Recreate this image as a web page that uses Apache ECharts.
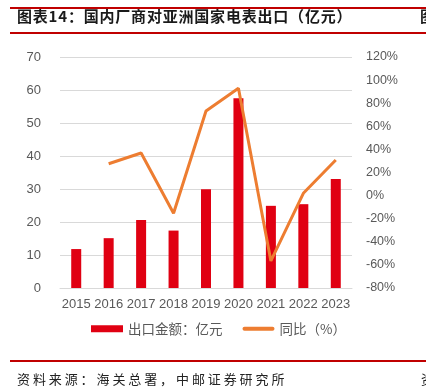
<!DOCTYPE html>
<html>
<head>
<meta charset="utf-8">
<script src="https://cdn.jsdelivr.net/npm/echarts@6/dist/echarts.min.js"></script>
<style>
  html, body { margin: 0; padding: 0; background: #fff; }
  #wrap { position: relative; width: 426px; height: 392px; overflow: hidden; }
  #chart { position: absolute; left: 0; top: 0; width: 426px; height: 392px; }
  .txt { position: absolute; white-space: nowrap; font-family: "Noto Sans CJK SC", sans-serif; }
  #title { left: 17px; top: 5px; font-size: 15px; font-weight: bold; color: #1a1a1a; letter-spacing: 0.8px; }
  #source { left: 17px; top: 369px; font-size: 13px; color: #222; letter-spacing: 2.9px; }
  .line { position: absolute; left: 10px; width: 420px; background: #C00000; }
</style>
</head>
<body>
<div id="wrap">
  <div id="chart"></div>
  <div class="line" style="top:7px;height:2px;"></div>
  <div class="line" style="top:32px;height:1.5px;"></div>
  <div class="line" style="top:360px;height:1.5px;"></div>
  <div class="txt" id="title">图表14：国内厂商对亚洲国家电表出口（亿元）</div>
  <div class="txt" style="left:420px;top:5px;font-size:15px;font-weight:bold;color:#1a1a1a;">图</div>
  <div class="txt" id="source">资料来源：海关总署，中邮证券研究所</div>
  <div class="txt" style="left:421px;top:369px;font-size:13px;color:#222;">资</div>
</div>
<script>
const years = ['2015', '2016', '2017', '2018', '2019', '2020', '2021', '2022', '2023']
const exportValue = [11.8, 15.1, 20.6, 17.4, 29.9, 57.5, 24.9, 25.4, 33.0]
const yoyPercent = [null, 27.6, 36.9, -15.3, 73.2, 92.9, -56.6, 2.0, 30.8]
const seriesNames = ['出口金额：亿元', '同比（%）']

const labelColor = '#595959'
const gridColor = '#D9D9D9'

let myChart = echarts.init(document.getElementById('chart'))
let option = {
  animation: false,
  grid: {
    left: 60,
    right: 74,
    top: 57,
    bottom: 104,
  },
  legend: {
    top: 317,
    left: 86,
    itemGap: 20,
    itemWidth: 32,
    itemHeight: 7,
    textStyle: {
      color: labelColor,
      fontSize: 13.5,
      fontFamily: 'Noto Sans CJK SC',
    },
    data: [
      { name: seriesNames[0], icon: 'rect' },
      { name: seriesNames[1], icon: 'path://M2,0 L30,0 A2,2 0 0 1 30,4 L2,4 A2,2 0 0 1 2,0 Z' },
    ],
  },
  xAxis: {
    type: 'category',
    data: years,
    axisLine: { show: true, lineStyle: { color: gridColor } },
    axisTick: { show: false },
    axisLabel: {
      interval: 0,
      color: labelColor,
      fontSize: 13,
      fontFamily: 'Liberation Sans',
      margin: 10,
    },
  },
  yAxis: [
    {
      type: 'value',
      min: 0,
      max: 70,
      interval: 10,
      axisLine: { show: false },
      axisTick: { show: false },
      splitLine: { lineStyle: { color: gridColor, width: 1 } },
      axisLabel: {
        color: labelColor,
        fontSize: 13,
        fontFamily: 'Liberation Sans',
        margin: 19,
      },
    },
    {
      type: 'value',
      min: -80,
      max: 120,
      interval: 20,
      axisLine: { show: false },
      axisTick: { show: false },
      splitLine: { show: false },
      axisLabel: {
        formatter: '{value}%',
        color: labelColor,
        fontSize: 12.5,
        fontFamily: 'Liberation Sans',
        margin: 14,
      },
    },
  ],
  series: [
    {
      name: seriesNames[0],
      type: 'bar',
      data: exportValue,
      barWidth: 10,
      itemStyle: { color: '#E00012' },
    },
    {
      name: seriesNames[1],
      type: 'line',
      yAxisIndex: 1,
      data: yoyPercent,
      symbol: 'none',
      lineStyle: { color: '#ED7D31', width: 3 },
      itemStyle: { color: '#ED7D31' },
    },
  ],
}
myChart.setOption(option)
</script>
</body>
</html>
